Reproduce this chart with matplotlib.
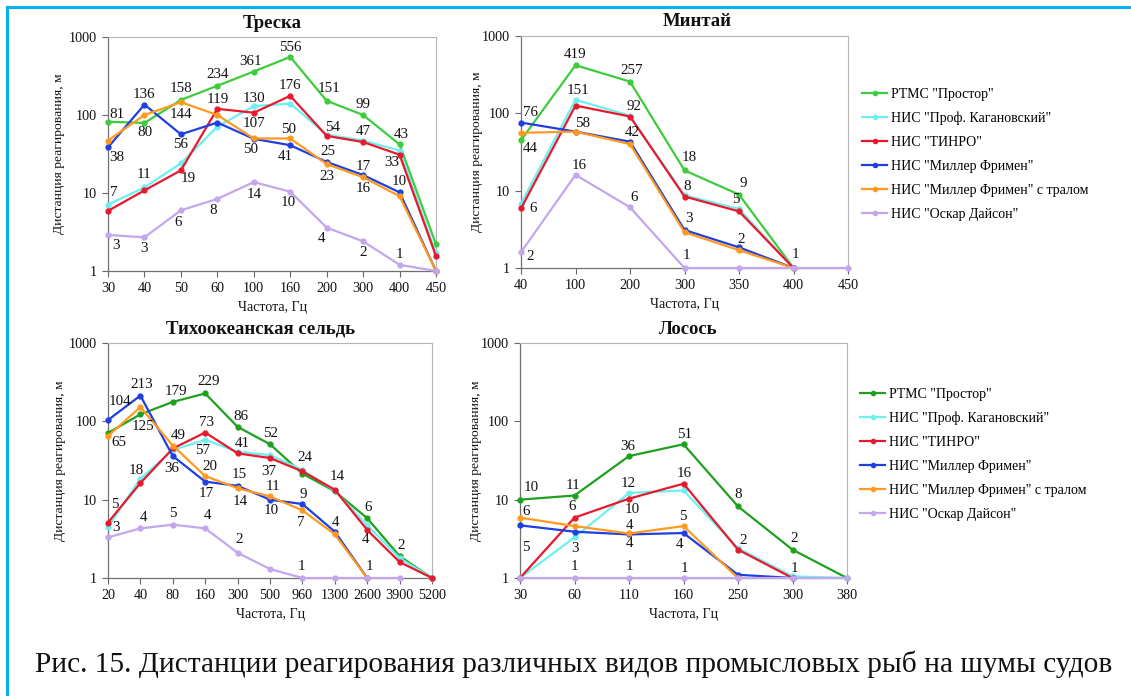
import matplotlib.pyplot as plt
from matplotlib.lines import Line2D
import numpy as np

plt.rcParams['font.family'] = ['Liberation Serif', 'DejaVu Serif']

nan = np.nan

SERIES = ['РТМС "Простор"', 'НИС "Проф. Кагановский"', 'НИС "ТИНРО"',
          'НИС "Миллер Фримен"', 'НИС "Миллер Фримен" с тралом', 'НИС "Оскар Дайсон"']
COLORS_TOP = ['#3ccc3c', '#6cf0f0', '#e8192c', '#1f3fe0', '#ff9a1f', '#c4a6ec']
COLORS_BOT = ['#1fa01f', '#6cf0f0', '#e8192c', '#1f3fe0', '#ff9a1f', '#c4a6ec']

# Треска
cod_freq = ['30', '40', '50', '60', '100', '160', '200', '300', '400', '450']
cod = [
    [82, 79, 156, 237, 361, 556, 152, 100, 42, 2.2],
    [7.1, 11.8, 24, 71, 130, 140, 56, 47, 35, 1.7],
    [5.9, 10.8, 19.5, 120, 107, 176, 54, 45, 31, 1.55],
    [38.5, 136, 56.5, 80, 49.5, 41, 25, 17, 10.2, 1.0],
    [47, 100, 146, 100, 50, 50, 23.5, 15.9, 9.1, 1.0],
    [2.9, 2.7, 6.0, 8.4, 13.8, 10.4, 3.6, 2.4, 1.2, 1.0],
]
cod_labels = [
    (0, 0, '81', 9, -7), (3, 0, '38', 9, 10), (1, 0, '7', 6, -12), (5, 0, '3', 8, 11),
    (3, 1, '136', 0, -10), (0, 1, '80', 0, 10), (1, 1, '11', 0, -13), (5, 1, '3', 0, 11),
    (0, 2, '158', 0, -11), (4, 2, '144', 0, 12), (3, 2, '56', 0, 10), (2, 2, '19', 7, 8),
    (5, 2, '6', -3, 12), (0, 3, '234', 0, -11), (2, 3, '119', 0, -9), (5, 3, '8', -4, 12),
    (0, 4, '361', -3, -10), (1, 4, '130', 0, -8), (2, 4, '107', 0, 11), (3, 4, '50', -3, 11),
    (5, 4, '14', 0, 12), (0, 5, '556', 0, -9), (2, 5, '176', 0, -10), (4, 5, '50', -2, -9),
    (3, 5, '41', -5, 11), (5, 5, '10', -2, 11), (0, 6, '151', 2, -12), (2, 6, '54', 6, -8),
    (3, 6, '25', 1, -10), (4, 6, '23', 0, 12), (5, 6, '4', -5, 11), (0, 7, '99', 0, -10),
    (2, 7, '47', 0, -11), (3, 7, '17', 0, -9), (4, 7, '16', 0, 11), (5, 7, '2', 0, 11),
    (0, 8, '43', 2, -10), (2, 8, '33', -8, 8), (3, 8, '10', 0, -11), (5, 8, '1', 0, -10),
]

# Минтай
pollock_freq = ['40', '100', '200', '300', '350', '400', '450']
pollock = [
    [45, 419, 257, 18.3, 8.9, 1, nan],
    [6.8, 150, 93, 8.7, 5.8, 1, nan],
    [5.9, 126, 91, 8.4, 5.4, 1, nan],
    [76, 58, 43, 3.1, 1.85, 1, nan],
    [56, 58, 40, 2.9, 1.7, 1, nan],
    [1.6, 16, 6.1, 1, 1, 1, 1],
]
pollock_labels = [
    (3, 0, '76', 9, -10), (0, 0, '44', 9, 8), (2, 0, '6', 12, 0), (5, 0, '2', 9, 4),
    (0, 1, '419', 0, -11), (1, 1, '151', 3, -9), (4, 1, '58', 7, -8), (5, 1, '16', 4, -9),
    (0, 2, '257', 2, -11), (2, 2, '92', 4, -10), (3, 2, '42', 2, -9), (5, 2, '6', 4, -10),
    (0, 3, '18', 5, -13), (2, 3, '8', 3, -10), (3, 3, '3', 4, -12), (5, 3, '1', 2, -12),
    (0, 4, '9', 4, -11), (2, 4, '5', -3, -12), (3, 4, '2', 2, -8), (5, 5, '1', 2, -13),
]

# Тихоокеанская сельдь
herring_freq = ['20', '40', '80', '160', '300', '500', '960', '1300', '2600', '3900', '5200']
herring = [
    [71, 123, 177, 227, 85, 51, 21.5, 12.8, 5.8, 1.9, 1],
    [4.5, 18.5, 43, 58, 41, 37, 24, 13, 4.7, 1.8, 1],
    [5.1, 16.3, 45, 72, 39, 34, 23, 13.4, 4.1, 1.6, 1],
    [104, 213, 36, 17, 15, 10, 8.8, 3.9, 1, nan, nan],
    [65, 152, 49, 20, 14, 11, 7.3, 3.6, 1, nan, nan],
    [3.3, 4.3, 4.8, 4.3, 2.1, 1.3, 1, 1, 1, 1, nan],
]
herring_labels = [
    (3, 0, '104', 12, -18), (4, 0, '65', 11, 7), (2, 0, '5', 7, -18), (5, 0, '3', 8, -10),
    (3, 1, '213', 1, -11), (0, 1, '125', 3, 12), (1, 1, '18', -4, -8), (5, 1, '4', 3, -11),
    (0, 2, '179', 3, -10), (4, 2, '49', 5, -10), (3, 2, '36', -1, 12), (5, 2, '5', 0, -11),
    (0, 3, '229', 3, -12), (2, 3, '73', 1, -10), (1, 3, '57', -3, 11), (4, 3, '20', 5, -10),
    (3, 3, '17', 1, 12), (5, 3, '4', 2, -13), (0, 4, '86', 3, -10), (1, 4, '41', 5, -8),
    (3, 4, '15', 2, -11), (4, 4, '14', 3, 13), (5, 4, '2', 2, -13), (0, 5, '52', 1, -11),
    (2, 5, '37', -1, 13), (4, 5, '11', 3, -10), (3, 5, '10', 1, 11), (1, 6, '24', 2, -12),
    (3, 6, '9', 1, -10), (4, 6, '7', -2, 12), (5, 6, '1', -1, -12), (2, 7, '14', 2, -13),
    (3, 7, '4', 1, -9), (0, 8, '6', 1, -11), (2, 8, '4', -2, 10), (3, 8, '1', 2, -12),
    (0, 9, '2', 2, -11),
]

# Лосось
salmon_freq = ['30', '60', '110', '160', '250', '300', '380']
salmon = [
    [10, 11.3, 36, 51, 8.2, 2.3, 1],
    [1, 3.3, 12.2, 13.1, 2.4, 1.05, 1],
    [1, 5.9, 10.3, 16, 2.3, 1, nan],
    [4.7, 3.9, 3.6, 3.75, 1.1, 1, nan],
    [5.9, 4.6, 3.7, 4.6, 1, nan, nan],
    [1, 1, 1, 1, 1, 1, 1],
]
salmon_labels = [
    (0, 0, '10', 11, -12), (4, 0, '6', 6, -6), (3, 0, '5', 6, 22), (0, 1, '11', -1, -10),
    (2, 1, '6', -2, -11), (1, 1, '3', 0, 11), (5, 1, '1', 0, -12), (0, 2, '36', -1, -10),
    (1, 2, '12', -1, -9), (2, 2, '10', 3, 11), (4, 2, '4', 0, -8), (3, 2, '4', 0, 9),
    (5, 2, '1', 0, -11), (0, 3, '51', 1, -10), (2, 3, '16', 1, -10), (4, 3, '5', -1, -10),
    (3, 3, '4', -4, 11), (5, 3, '1', 1, -10), (0, 4, '8', 0, -12), (2, 4, '2', 5, -9),
    (0, 5, '2', 2, -11), (2, 5, '1', 2, -9),
]

W, H = 1131, 696
fig = plt.figure(figsize=(W / 100, H / 100), dpi=100)

# panel boxes in pixels: left, top, right, bottom
panels = [
    ('Треска', cod_freq, cod, cod_labels, (108, 37, 436, 271), 0.5, -0.131, COLORS_TOP),
    ('Минтай', pollock_freq, pollock, pollock_labels, (521, 36, 848, 268), 0.54, -0.116, COLORS_TOP),
    ('Тихоокеанская сельдь', herring_freq, herring, herring_labels, (108, 343, 432, 578), 0.47, -0.131, COLORS_BOT),
    ('Лосось', salmon_freq, salmon, salmon_labels, (520, 343, 847, 578), 0.515, -0.115, COLORS_BOT),
]

for title, freq, data, labels, box, tx, ylx, colors in panels:
    l, t, r, b = box
    ax = fig.add_axes([l / W, 1 - b / H, (r - l) / W, (b - t) / H])
    x = np.arange(len(freq))
    for i, vals in enumerate(data):
        ax.plot(x, vals, color=colors[i], lw=1.6, marker='o', ms=3.5,
                clip_on=False, zorder=3 + i)
    for si, pi, txt, dx, dy in labels:
        ax.annotate(txt, (x[pi], data[si][pi]), xytext=(dx, -dy),
                    textcoords='offset pixels', ha='center', va='center',
                    fontsize=10.8, color='#111111', zorder=20, annotation_clip=False)
    ax.set_yscale('log')
    ax.set_ylim(1, 1000)
    ax.set_xlim(0, len(freq) - 1)
    ax.set_yticks([1, 10, 100, 1000], labels=['1', '10', '100', '1000'])
    ax.minorticks_off()
    ax.set_xticks(x, labels=freq)
    ax.tick_params(labelsize=10.2, length=4, width=0.8, color='#666666', pad=4,
                   labelcolor='#111111')
    for side in ['left', 'bottom']:
        ax.spines[side].set_color('#707070')
        ax.spines[side].set_linewidth(0.9)
    for side in ['top', 'right']:
        ax.spines[side].set_color('#b5b5b5')
        ax.spines[side].set_linewidth(0.8)
    ax.set_ylabel('Дистанция реагирования, м', fontsize=9.7, color='#111111')
    ax.yaxis.set_label_coords(ylx, 0.5)
    ax.set_xlabel('Частота, Гц', fontsize=10, color='#111111')
    ax.xaxis.set_label_coords(0.5, -30 / (b - t))
    ax.text(tx, 1 + 14 / (b - t), title, transform=ax.transAxes, ha='center',
            va='center', fontsize=13.5, fontweight='bold', color='#111111')

# legends
for colors, (lx, ly) in [(COLORS_TOP, (862, 88)), (COLORS_BOT, (860, 388))]:
    handles = [Line2D([], [], color=c, lw=1.6, marker='o', ms=3) for c in colors]
    fig.legend(handles, SERIES, loc='upper left', bbox_to_anchor=(lx / W, 1 - ly / H),
               frameon=False, fontsize=10, handlelength=1.8, handletextpad=0.3,
               labelspacing=0.78, borderpad=0, borderaxespad=0)

# page frame
frame = '#00b0f0'
fig.add_artist(Line2D([7 / W, 1], [1 - 7 / H, 1 - 7 / H], transform=fig.transFigure,
                      color=frame, lw=2.2))
fig.add_artist(Line2D([7 / W, 7 / W], [0, 1 - 7 / H], transform=fig.transFigure,
                      color=frame, lw=2.2))

fig.text(35 / W, 1 - 672 / H,
         'Рис. 15. Дистанции реагирования различных видов промысловых рыб на шумы судов',
         ha='left', va='baseline', fontsize=21.2, color='#111111')

fig.savefig('out.png', dpi=100)
